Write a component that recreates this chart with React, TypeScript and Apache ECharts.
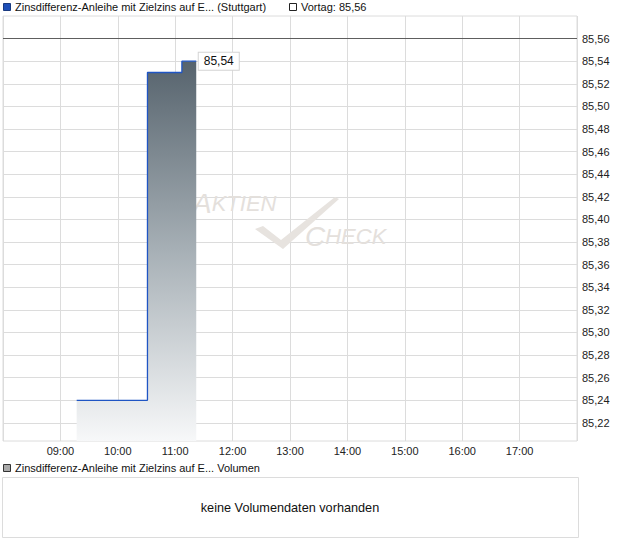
import React, { useEffect, useRef } from "react";
import * as echarts from "echarts";

// Intraday quotes (Stuttgart)
const tradeTimes = ["09:17", "10:31", "11:07", "11:22"];
const tradePrices = [85.24, 85.53, 85.54, 85.54];
const previousClose = 85.56;
const priceTicks = [
  85.22, 85.24, 85.26, 85.28, 85.3, 85.32, 85.34, 85.36, 85.38, 85.4,
  85.42, 85.44, 85.46, 85.48, 85.5, 85.52, 85.54, 85.56,
];
const hourTicks = [9, 10, 11, 12, 13, 14, 15, 16, 17];
const seriesTitle = "Zinsdifferenz-Anleihe mit Zielzins auf E... (Stuttgart)";
const volumeTitle = "Zinsdifferenz-Anleihe mit Zielzins auf E... Volumen";
const noVolumeText = "keine Volumendaten vorhanden";

const toHours = (t: string) => {
  const [h, m] = t.split(":").map(Number);
  return h + m / 60;
};
const fmtPrice = (v: number) => v.toFixed(2).replace(".", ",");
const pad = (n: number) => (n < 10 ? "0" + n : "" + n);

const FONT = "Liberation Sans, Arial, sans-serif";
const MARK = "#e4e0dc";

export default function App() {
  const ref = useRef<HTMLDivElement>(null);

  useEffect(() => {
    if (!ref.current) return;
    const chart = echarts.init(ref.current, undefined, { renderer: "svg" });
    const data = tradeTimes.map((t, i) => [toHours(t), tradePrices[i]]);
    const lastPoint = data[data.length - 1];

    chart.setOption({
      animation: false,
      textStyle: { fontFamily: FONT },
      grid: {
        left: 2,
        top: 16,
        right: 43,
        bottom: 105,
        show: true,
        borderColor: "#dcdcdc",
        borderWidth: 1,
      },
      xAxis: {
        type: "value",
        min: 8,
        max: 18,
        interval: 1,
        axisLine: { show: false },
        axisTick: { show: false },
        splitLine: { show: true, lineStyle: { color: "#dcdcdc", width: 1 } },
        axisLabel: {
          color: "#222",
          fontSize: 11,
          fontFamily: FONT,
          margin: 4,
          formatter: (v: number) =>
            hourTicks.includes(Math.round(v)) ? pad(Math.round(v)) + ":00" : "",
        },
      },
      yAxis: {
        type: "value",
        position: "right",
        min: 85.204,
        max: 85.58,
        scale: true,
        axisLine: { show: false },
        axisTick: { show: false, customValues: priceTicks },
        splitLine: { show: true, lineStyle: { color: "#dcdcdc", width: 1 } },
        axisLabel: {
          customValues: priceTicks,
          color: "#222",
          fontSize: 11,
          fontFamily: FONT,
          margin: 5,
          formatter: (v: number) => fmtPrice(v),
        },
      },
      series: [
        {
          type: "line",
          step: "end",
          data,
          symbol: "none",
          lineStyle: { color: "#1f55c4", width: 1.3 },
          areaStyle: {
            color: new echarts.graphic.LinearGradient(0, 0, 0, 1, [
              { offset: 0, color: "#56636d" },
              { offset: 0.5, color: "#a7b0b6" },
              { offset: 1, color: "#f7f8f9" },
            ]),
            opacity: 1,
          },
          markLine: {
            silent: true,
            symbol: "none",
            label: { show: false },
            lineStyle: { color: "#5e5e5e", width: 1, type: "solid" },
            data: [{ yAxis: previousClose }],
          },
          markPoint: {
            silent: true,
            symbol: "circle",
            symbolSize: 1,
            itemStyle: { color: "rgba(0,0,0,0)" },
            data: [
              {
                coord: lastPoint,
                value: lastPoint[1],
                label: {
                  show: true,
                  position: "right",
                  distance: 2,
                  formatter: () => fmtPrice(lastPoint[1]),
                  color: "#111",
                  fontSize: 12,
                  fontFamily: FONT,
                  backgroundColor: "#fff",
                  borderColor: "#d4d4d4",
                  borderWidth: 1,
                  padding: [3, 5, 2, 5],
                },
              },
            ],
          },
          z: 3,
        },
      ],
      graphic: [
        // header legend
        {
          type: "rect",
          shape: { x: 3.5, y: 3.5, width: 7, height: 7 },
          style: { fill: "#1e4fb8", stroke: "#1a3a80", lineWidth: 1 },
        },
        {
          type: "text",
          x: 15,
          y: 7,
          style: {
            text: seriesTitle,
            fill: "#111",
            font: `11px ${FONT}`,
            verticalAlign: "middle",
          },
        },
        {
          type: "rect",
          shape: { x: 289.5, y: 3.5, width: 7, height: 7 },
          style: { fill: "#fff", stroke: "#222", lineWidth: 1 },
        },
        {
          type: "text",
          x: 301,
          y: 7,
          style: {
            text: "Vortag: " + fmtPrice(previousClose),
            fill: "#111",
            font: `11px ${FONT}`,
            verticalAlign: "middle",
          },
        },
        // watermark
        {
          type: "text",
          x: 193,
          y: 217,
          z: 1,
          style: {
            text: "{a|A}{b|KTIEN}",
            verticalAlign: "bottom",
            rich: {
              a: { font: `italic 28px ${FONT}`, fill: MARK },
              b: { font: `italic 22px ${FONT}`, fill: MARK },
            },
          },
        },
        {
          type: "text",
          x: 305,
          y: 250,
          z: 1,
          style: {
            text: "{a|C}{b|HECK}",
            verticalAlign: "bottom",
            rich: {
              a: { font: `italic 28px ${FONT}`, fill: MARK },
              b: { font: `italic 22px ${FONT}`, fill: MARK },
            },
          },
        },
        {
          type: "polygon",
          z: 1,
          shape: {
            points: [
              [255, 229],
              [263, 226],
              [281, 240],
              [335, 197],
              [339, 199],
              [283, 249],
            ],
          },
          style: { fill: "#e7e3df" },
        },
        // volume panel
        {
          type: "rect",
          shape: { x: 3.5, y: 464.5, width: 7, height: 7 },
          style: { fill: "#aaa", stroke: "#333", lineWidth: 1 },
        },
        {
          type: "text",
          x: 15,
          y: 468,
          style: {
            text: volumeTitle,
            fill: "#111",
            font: `11px ${FONT}`,
            verticalAlign: "middle",
          },
        },
        {
          type: "rect",
          shape: { x: 2.5, y: 477.5, width: 576, height: 60 },
          style: { fill: "#fff", stroke: "#dcdcdc", lineWidth: 1 },
        },
        {
          type: "text",
          x: 290,
          y: 508,
          style: {
            text: noVolumeText,
            fill: "#111",
            font: `12.7px ${FONT}`,
            align: "center",
            verticalAlign: "middle",
          },
        },
      ],
    });

    return () => chart.dispose();
  }, []);

  return (
    <div
      ref={ref}
      style={{ position: "fixed", left: 0, top: 0, width: 620, height: 546, background: "#fff" }}
    />
  );
}
